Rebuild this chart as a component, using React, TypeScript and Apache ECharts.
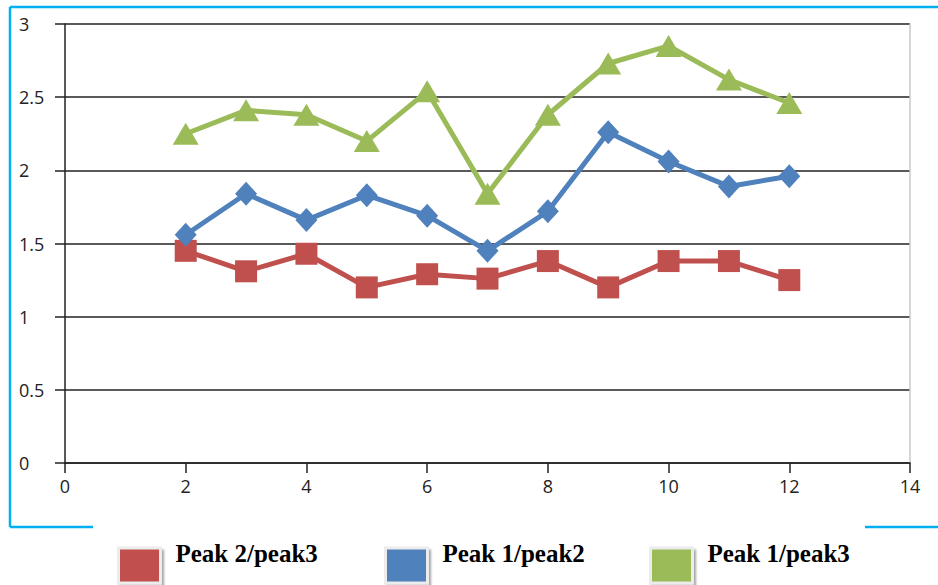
import React, { useEffect, useRef } from "react";
import * as echarts from "echarts";

const xValues = [2, 3, 4, 5, 6, 7, 8, 9, 10, 11, 12];
const peak2peak3 = [1.45, 1.31, 1.43, 1.2, 1.29, 1.26, 1.38, 1.2, 1.38, 1.38, 1.25];
const peak1peak2 = [1.56, 1.84, 1.66, 1.83, 1.69, 1.45, 1.72, 2.26, 2.06, 1.89, 1.96];
const peak1peak3 = [2.25, 2.41, 2.38, 2.2, 2.54, 1.84, 2.38, 2.73, 2.85, 2.62, 2.46];
const seriesNames = ["Peak 2/peak3", "Peak 1/peak2", "Peak 1/peak3"];
const colors = ["#C0504D", "#4F81BD", "#9BBB59"];

const pairs = (ys: number[]) => xValues.map((x, i) => [x, ys[i]]);

export default function App() {
  const ref = useRef<HTMLDivElement>(null);
  useEffect(() => {
    if (!ref.current) return;
    const chart = echarts.init(ref.current, null, { renderer: "svg" });
    const labelFont = { fontFamily: "Open Sans", fontSize: 18, color: "#222" };
    const legendBase = {
      top: 541,
      padding: 0,
      itemWidth: 42,
      itemHeight: 35,
      icon: "rect",
      selectedMode: false,
      formatter: (name: string) => name + "\n ",
      itemStyle: {
        borderColor: "#ececec",
        borderWidth: 3,
        shadowColor: "rgba(0,0,0,0.35)",
        shadowBlur: 2,
        shadowOffsetX: 2,
        shadowOffsetY: 3,
      },
      textStyle: {
        fontFamily: "Liberation Serif",
        fontWeight: "bold",
        fontSize: 25,
        lineHeight: 24,
        color: "#000",
        padding: [0, 0, 0, 10],
      },
    };
    chart.setOption({
      animation: false,
      backgroundColor: "#fff",
      grid: { left: 65, right: 28, top: 24, bottom: 122 },
      xAxis: {
        type: "value",
        min: 0,
        max: 14,
        interval: 2,
        axisLine: { show: true, lineStyle: { color: "#222", width: 1.5 } },
        axisTick: { show: true, length: 10, lineStyle: { color: "#222", width: 1.5 } },
        axisLabel: { ...labelFont, margin: 14 },
        splitLine: { show: false },
      },
      yAxis: [
        {
          type: "value",
          min: 0,
          max: 3,
          interval: 0.5,
          axisLine: { show: true, lineStyle: { color: "#222", width: 1.5 } },
          axisTick: { show: true, length: 10, lineStyle: { color: "#222", width: 1.5 } },
          axisLabel: { ...labelFont, align: "left", margin: 46 },
          splitLine: { show: true, lineStyle: { color: "#222", width: 1.5 } },
        },
        {
          type: "value",
          position: "right",
          min: 0,
          max: 3,
          interval: 0.5,
          axisLine: { show: true, lineStyle: { color: "#c8c8c8", width: 1.5 } },
          axisTick: { show: false },
          axisLabel: { show: false },
          splitLine: { show: false },
        },
      ],
      legend: [
        { ...legendBase, left: 117, data: [seriesNames[0]] },
        { ...legendBase, left: 384, data: [seriesNames[1]] },
        { ...legendBase, left: 649, data: [seriesNames[2]] },
      ],
      graphic: [
        { type: "line", shape: { x1: 10, y1: 7, x2: 938, y2: 7 }, style: { stroke: "#00B0F0", lineWidth: 2.5 } },
        { type: "line", shape: { x1: 10, y1: 7, x2: 10, y2: 527 }, style: { stroke: "#00B0F0", lineWidth: 2.5 } },
        { type: "line", shape: { x1: 10, y1: 527, x2: 93, y2: 527 }, style: { stroke: "#00B0F0", lineWidth: 2.5 } },
        { type: "line", shape: { x1: 865, y1: 527, x2: 938, y2: 527 }, style: { stroke: "#00B0F0", lineWidth: 2.5 } },
      ],
      series: [
        {
          name: seriesNames[0],
          type: "line",
          data: pairs(peak2peak3),
          symbol: "rect",
          symbolSize: 22,
          lineStyle: { color: colors[0], width: 5 },
          itemStyle: { color: colors[0] },
        },
        {
          name: seriesNames[1],
          type: "line",
          data: pairs(peak1peak2),
          symbol: "diamond",
          symbolSize: [22, 24],
          lineStyle: { color: colors[1], width: 5 },
          itemStyle: { color: colors[1] },
        },
        {
          name: seriesNames[2],
          type: "line",
          data: pairs(peak1peak3),
          symbol: "triangle",
          symbolSize: [26, 22],
          lineStyle: { color: colors[2], width: 5 },
          itemStyle: { color: colors[2] },
        },
      ],
    });
    return () => chart.dispose();
  }, []);
  return (
    <div
      ref={ref}
      style={{ position: "fixed", left: 0, top: 0, width: 938, height: 585, background: "#fff" }}
    />
  );
}
